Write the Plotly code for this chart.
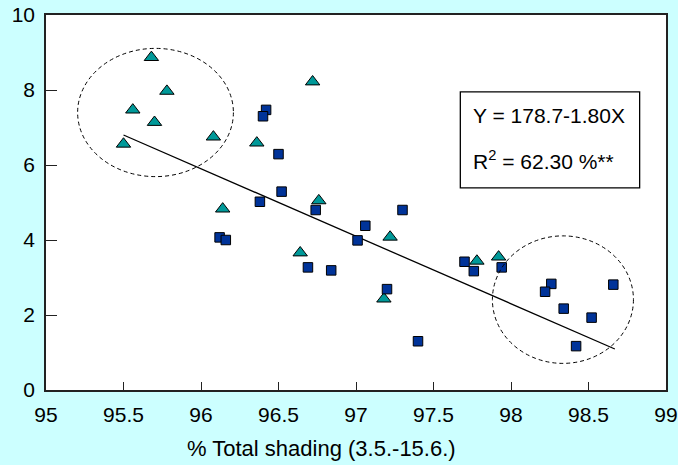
import plotly.graph_objects as go

# Triangle group: % total shading vs. response
tri_x = [95.68, 95.78, 95.56, 95.70, 95.50, 96.08, 96.36, 96.72, 96.14, 96.64,
         96.76, 97.22, 97.18, 97.78, 97.92]
tri_y = [8.87, 7.97, 7.47, 7.14, 6.56, 6.75, 6.59, 8.22, 4.83, 3.66,
         5.05, 4.08, 2.43, 3.44, 3.55]

# Square group
sq_x = [96.42, 96.40, 96.50, 96.52, 96.38, 96.12, 96.16, 96.69, 96.74, 97.30,
        97.06, 97.01, 96.84, 97.20, 97.40, 97.70, 97.76, 97.94, 98.26, 98.22,
        98.34, 98.52, 98.42, 98.66]
sq_y = [7.47, 7.30, 6.29, 5.29, 5.02, 4.07, 4.00, 3.27, 4.80, 4.80,
        4.38, 3.99, 3.19, 2.69, 1.30, 3.42, 3.17, 3.27, 2.83, 2.62,
        2.17, 1.93, 1.17, 2.81]

# Fitted regression Y = a + bX
intercept = 178.7
slope = -1.80
fit_x = [95.5, 98.67]
fit_y = [intercept + slope * x for x in fit_x]

x_ticks = [95, 95.5, 96, 96.5, 97, 97.5, 98, 98.5, 99]
y_ticks = [0, 2, 4, 6, 8, 10]

FONT = "Arial, Liberation Sans, sans-serif"

fig = go.Figure()

fig.add_trace(go.Scatter(
    x=fit_x, y=fit_y, mode="lines",
    line=dict(color="black", width=1.3),
    hoverinfo="skip",
))

fig.add_trace(go.Scatter(
    x=tri_x, y=tri_y, mode="markers",
    marker=dict(symbol="triangle-up", size=12.5, color="#009999",
                line=dict(color="black", width=1)),
))

fig.add_trace(go.Scatter(
    x=sq_x, y=sq_y, mode="markers",
    marker=dict(symbol="square", size=9.5, color="#003399",
                line=dict(color="black", width=1)),
))

# dashed ellipses around the two extreme clusters
fig.add_shape(type="circle", xref="x", yref="y",
              x0=95.204, x1=96.209, y0=5.69, y1=9.11,
              line=dict(color="black", width=1, dash="4px,3px"))
fig.add_shape(type="circle", xref="x", yref="y",
              x0=97.88, x1=98.79, y0=0.71, y1=4.11,
              line=dict(color="black", width=1, dash="4px,3px"))

# equation box
fig.add_shape(type="rect", xref="x", yref="y", layer="below",
              x0=97.673, x1=98.83, y0=5.39, y1=7.95,
              line=dict(color="black", width=1.3), fillcolor="white")
fig.add_annotation(x=97.74, y=7.32, xref="x", yref="y",
                   text="Y = 178.7-1.80X", showarrow=False,
                   xanchor="left", yanchor="middle",
                   font=dict(family=FONT, size=21, color="black"))
fig.add_annotation(x=97.74, y=6.14, xref="x", yref="y",
                   text="R<sup>2</sup> = 62.30 %**", showarrow=False,
                   xanchor="left", yanchor="middle",
                   font=dict(family=FONT, size=21, color="black"))

# x-axis caption
fig.add_annotation(x=0.444, y=-0.157, xref="paper", yref="paper",
                   text="% Total shading (3.5.-15.6.)", showarrow=False,
                   xanchor="center", yanchor="middle",
                   font=dict(family=FONT, size=22, color="black"))

fig.update_xaxes(
    range=[95, 99], tickvals=x_ticks, ticktext=[f"{v:g}" for v in x_ticks],
    ticks="inside", ticklen=8, tickcolor="#222", tickwidth=1.3,
    showline=True, linecolor="#222", linewidth=1.5, mirror=True,
    showgrid=False, zeroline=False, automargin=False,
    tickfont=dict(family=FONT, size=21, color="black"),
    ticklabelstandoff=5,
)
fig.update_yaxes(
    range=[0, 10], tickvals=y_ticks,
    ticks="inside", ticklen=11, tickcolor="#222", tickwidth=1.3,
    showline=True, linecolor="#222", linewidth=1.5, mirror=True,
    showgrid=False, zeroline=False, automargin=False,
    tickfont=dict(family=FONT, size=21, color="black"),
    ticklabelstandoff=5,
)

fig.update_layout(
    width=678, height=465,
    margin=dict(l=46, r=12, t=15, b=75),
    paper_bgcolor="#CCFFFF", plot_bgcolor="white",
    showlegend=False,
)

fig.write_html("out.html")
